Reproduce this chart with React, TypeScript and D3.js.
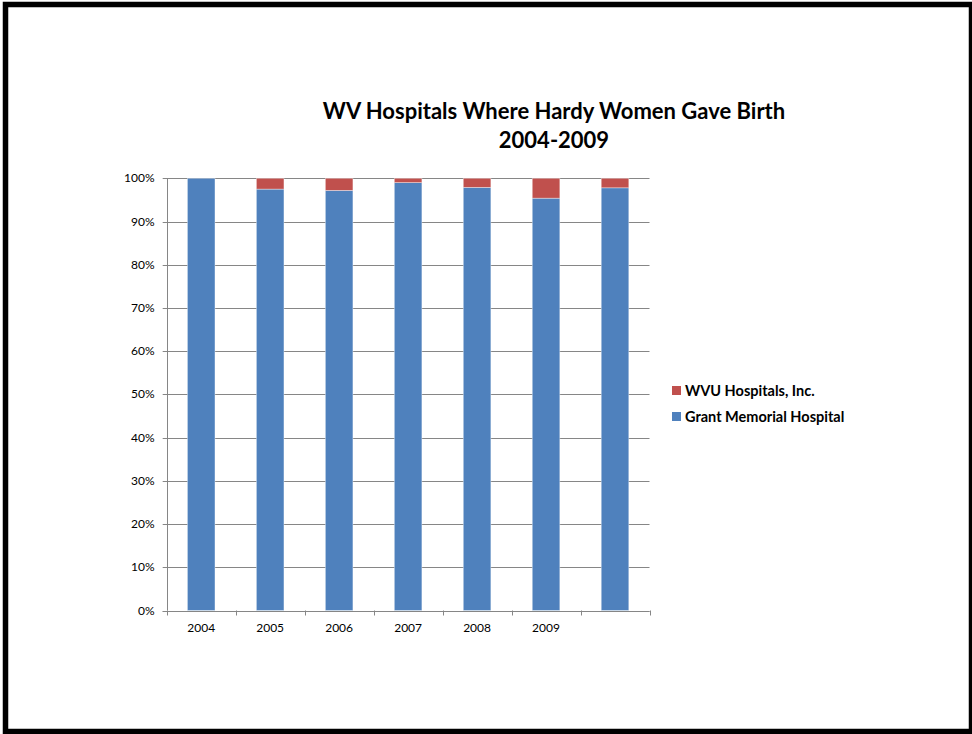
import React from "react";
import * as d3 from "d3";

const categories = ["2004", "2005", "2006", "2007", "2008", "2009", ""];
const grantValues = [100, 97.5, 97.2, 99.0, 97.9, 95.4, 97.8];
const wvuValues = [0, 2.5, 2.8, 1.0, 2.1, 4.6, 2.2];
const seriesNames = ["Grant Memorial Hospital", "WVU Hospitals, Inc."];
const seriesColors = ["#4F81BD", "#C0504D"];
const yTicks = [0, 10, 20, 30, 40, 50, 60, 70, 80, 90, 100];
const titleLines = ["WV Hospitals Where Hardy Women Gave Birth", "2004-2009"];

const W = 972;
const H = 734;
const left = 166.7;
const right = 649.5;
const top = 178.3;
const bottom = 610.5;
const font = "Lato, 'Open Sans', sans-serif";

export default function App() {
  const x = d3.scaleBand<number>().domain(d3.range(categories.length)).range([left, right]).paddingInner(0.6).paddingOuter(0.3);
  const band = d3.scaleBand<number>().domain(d3.range(categories.length)).range([left, right]);
  const y = d3.scaleLinear().domain([0, 100]).range([bottom, top]);
  const rows = categories.map((c, i) => ({ c, g: grantValues[i], w: wvuValues[i] }));
  const stack = d3.stack<any>().keys(["g", "w"])(rows);

  return (
    <svg width={W} height={H} style={{ position: "absolute", left: 0, top: 0, background: "#fff" }}>
      <rect x={0} y={0} width={W} height={H} fill="#fff" />
      {/* frame */}
      <rect x={5.5} y={4.5} width={W - 6} height={H - 7} fill="none" stroke="#000" strokeWidth={5.5} />
      {/* title */}
      {titleLines.map((t, i) => (
        <text key={i} x={554} y={119 + i * 29} textAnchor="middle" fontFamily={font} fontWeight="bold" fontSize={22} fill="#000">
          {t}
        </text>
      ))}
      {/* gridlines */}
      {yTicks.map((t) => (
        <g key={t}>
          <line x1={left - 4} x2={right} y1={Math.round(y(t)) + 0.5} y2={Math.round(y(t)) + 0.5} stroke="#868686" strokeWidth={1} />
          <text x={154.5} y={y(t) + 4} textAnchor="end" fontFamily={font} fontSize={12} fill="#000">
            {t}%
          </text>
        </g>
      ))}
      {/* bars */}
      {stack.map((s, si) =>
        s.map((d, i) => (
          <rect
            key={si + "-" + i}
            x={x(i)}
            width={x.bandwidth()}
            y={y(d[1])}
            height={Math.max(0, y(d[0]) - y(d[1]))}
            fill={seriesColors[si]}
            stroke="#ffffff"
            strokeOpacity={0.5}
            strokeWidth={0.75}
          />
        ))
      )}
      {/* axes */}
      <line x1={Math.round(left) + 0.5} x2={Math.round(left) + 0.5} y1={top} y2={bottom} stroke="#868686" />
      <line x1={left - 4} x2={right} y1={Math.round(bottom) + 0.5} y2={Math.round(bottom) + 0.5} stroke="#868686" />
      {d3.range(categories.length + 1).map((i) => {
        const xx = Math.round(i < categories.length ? (band(i) as number) : right) + 0.5;
        return <line key={i} x1={xx} x2={xx} y1={bottom} y2={bottom + 5} stroke="#868686" />;
      })}
      {categories.map((c, i) => (
        <text key={i} x={(x(i) as number) + x.bandwidth() / 2} y={632} textAnchor="middle" fontFamily={font} fontSize={12} fill="#000">
          {c}
        </text>
      ))}
      {/* legend */}
      {[1, 0].map((si, k) => (
        <g key={si}>
          <rect x={672} y={386 + k * 26} width={9} height={9} fill={seriesColors[si]} />
          <text x={685} y={395.5 + k * 26} fontFamily={font} fontWeight="bold" fontSize={14.5} fill="#000">
            {seriesNames[si]}
          </text>
        </g>
      ))}
    </svg>
  );
}
